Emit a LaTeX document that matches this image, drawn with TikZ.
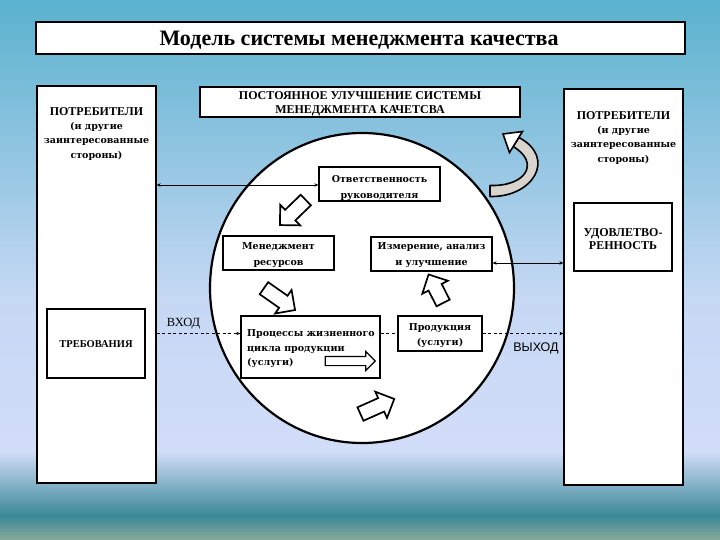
\documentclass[tikz,border=0pt]{standalone}
\usepackage{fontspec}
\setmainfont{Liberation Serif}
\newfontfamily\quirk{DejaVu Serif}
\newfontfamily\arialf{Liberation Sans}
\usetikzlibrary{shapes.arrows,arrows.meta}
\definecolor{bgTop}{HTML}{5AB2CE}
\definecolor{bgMid}{HTML}{C6D8F4}
\definecolor{bgLow}{HTML}{D2DDF8}
\definecolor{bgTeal}{HTML}{3A8898}
\definecolor{bgBot}{HTML}{88AA98}
\definecolor{curvfill}{HTML}{DAD4CE}
\begin{document}
\begin{tikzpicture}[x=1pt,y=-1pt,
  box/.style={draw, line width=1.3pt, fill=white, inner sep=0pt},
  capt/.style={font=\bfseries\fontsize{12}{14}\selectfont, align=center, inner sep=0pt},
  smalltxt/.style={font=\quirk\bfseries\fontsize{9.5}{15.5}\selectfont, align=center, inner sep=0pt},
  blk/.style={single arrow, draw, fill=white, line width=1.7pt, inner xsep=0pt, inner ysep=6.5pt,
              single arrow head extend=7pt, single arrow tip angle=90},
  tipboth/.style={line width=0.9pt, {Stealth[length=4pt,width=3.5pt]}-{Stealth[length=4pt,width=3.5pt]}},
  dashln/.style={line width=0.8pt, dash pattern=on 3pt off 2.5pt},
  dashar/.style={dashln, -{Stealth[length=4pt,width=3.5pt]}}
]
\useasboundingbox (0,0) rectangle (720,540);
% background
\shade[top color=bgTop, bottom color=bgMid] (0,0) rectangle (720,300);
\shade[top color=bgMid, bottom color=bgLow] (0,299.5) rectangle (720,452);
\shade[top color=bgLow, bottom color=bgTeal] (0,451.5) rectangle (720,516);
\shade[top color=bgTeal, bottom color=bgBot] (0,515.5) rectangle (720,540);

% title
\node[box, minimum width=649pt, minimum height=32pt] (title) at (360.5,38) {};
\node[font=\bfseries\fontsize{22}{26}\selectfont, inner sep=0pt] (titletxt) at (359,40) {Модель системы менеджмента качества};

% big side boxes
\node[box, minimum width=119pt, minimum height=397pt] (lbox) at (96.5,284.5) {};
\node[capt] (ltitle) at (96.5,112) {ПОТРЕБИТЕЛИ};
\node[smalltxt, font=\quirk\bfseries\fontsize{9.5}{14.5}\selectfont] (lsub) at (96.5,141) {(и другие\\заинтересованные\\стороны)};
\node[box, minimum width=119pt, minimum height=396pt] (rbox) at (623.5,287) {};
\node[capt] (rtitle) at (623.5,116) {ПОТРЕБИТЕЛИ};
\node[smalltxt, font=\quirk\bfseries\fontsize{9.5}{14.5}\selectfont] (rsub) at (623.5,145) {(и другие\\заинтересованные\\стороны)};

% top box
\node[box, minimum width=320pt, minimum height=30pt] (improve) at (360,102) {};
\node[capt] (improvetxt) at (360,104) {ПОСТОЯННОЕ УЛУЧШЕНИЕ СИСТЕМЫ\\МЕНЕДЖМЕНТА КАЧЕТСВА};

% circle
\draw[line width=2.2pt, fill=white] (362,288) ellipse [x radius=152, y radius=155];

% inner boxes
\node[box, minimum width=121pt, minimum height=34pt] (resp) at (379.5,184) {};
\node[smalltxt] (resptxt) at (379.5,188) {Ответственность\\руководителя};
\node[box, minimum width=111pt, minimum height=34pt] (res) at (278.5,253) {};
\node[smalltxt] (restxt) at (278.5,255) {Менеджмент\\ресурсов};
\node[box, minimum width=121pt, minimum height=34pt] (meas) at (431.5,254) {};
\node[smalltxt] (meastxt) at (431.5,255) {Измерение, анализ\\и улучшение};
\node[box, minimum width=98pt, minimum height=68pt] (sat) at (623,237) {};
\node[capt, font=\bfseries\fontsize{12}{13}\selectfont] (sattxt) at (623,239) {УДОВЛЕТВО-\\РЕННОСТЬ};
\node[box, minimum width=98pt, minimum height=69pt] (req) at (96,343.5) {};
\node[capt, font=\bfseries\fontsize{10.5}{12}\selectfont] (reqtxt) at (96,344.5) {ТРЕБОВАНИЯ};
\node[box, minimum width=139pt, minimum height=62pt] (proc) at (310.5,347) {};
\node[smalltxt, align=left, anchor=north west, font=\quirk\bfseries\fontsize{9.5}{14.5}\selectfont] (proctxt) at (247,329.5) {Процессы жизненного\\цикла продукции\\(услуги)};
\node[box, minimum width=84pt, minimum height=35pt] (prod) at (440,333.5) {};
\node[smalltxt, font=\quirk\bfseries\fontsize{9.5}{15}\selectfont] (prodtxt) at (440,336) {Продукция\\(услуги)};

% labels
\node[font=\fontsize{12.5}{14}\selectfont, inner sep=0pt] (inlbl) at (183.5,323.5) {ВХОД};
\node[font=\arialf\fontsize{12.5}{14}\selectfont, inner sep=0pt] (outlbl) at (536,348) {ВЫХОД};

% connectors
\coordinate (rIn) at ([yshift=-1pt]resp.west);
\draw[tipboth] (rIn -| lbox.east) -- (rIn);
\coordinate (mOut) at ([yshift=-9pt]meas.east);
\draw[tipboth] (mOut) -- (mOut -| rbox.west);
\draw[dashar] (prod.west -| lbox.east) -- (prod.west -| proc.west);
\draw[dashln] (prod.west -| proc.east) -- (prod.west);
\draw[dashar] (prod.east) -- (prod.east -| rbox.west);

% block arrows
\node[blk, minimum height=36pt, rotate=224] (a1) at (295.5,210) {};
\node[blk, minimum height=38pt, rotate=-35] (a2) at (276.5,297) {};
\node[blk, minimum height=32pt, rotate=117] (a3) at (437.5,292) {};
\node[blk, minimum height=37pt, rotate=24] (a4) at (374,408) {};
\node[single arrow, draw, fill=white, line width=1.2pt, inner xsep=0pt, inner ysep=4pt,
      single arrow head extend=5pt, single arrow tip angle=90, minimum height=50pt] (a5) at (348,361) {};

% curved arrow
\filldraw[fill=curvfill, line width=1.6pt, line join=round]
  (490,196.5) .. controls (533,197.5) and (557,158) .. (519,137.5)
  -- (513,146.5) .. controls (540,162) and (527,186.5) .. (490,185.5) -- cycle;
\filldraw[fill=white, line width=1.6pt, line join=miter]
  (522.5,131.5) -- (503,134) -- (509.5,152.5) -- cycle;
\end{tikzpicture}
\end{document}
